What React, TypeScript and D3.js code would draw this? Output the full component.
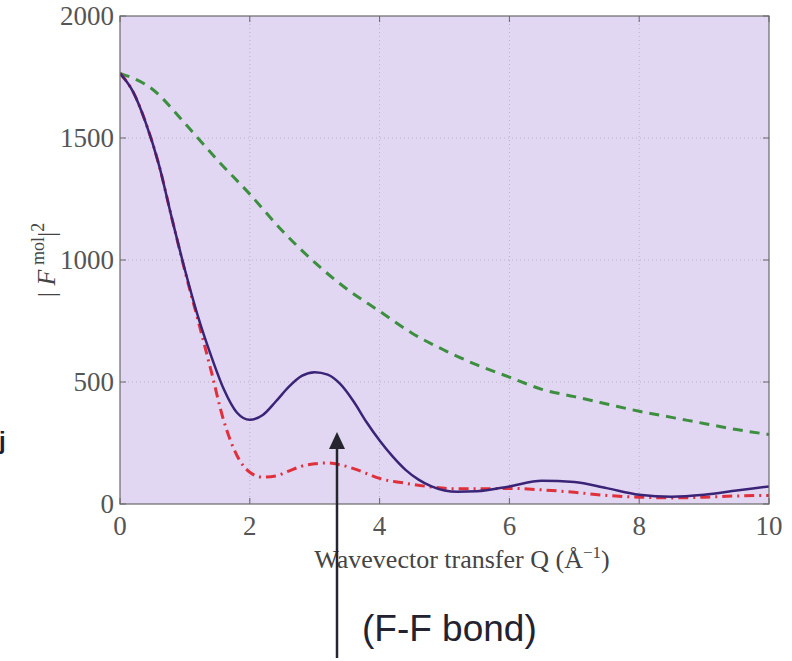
import React from 'react';
import * as d3 from 'd3';

// Q values (Å^-1) and |F^mol|^2
const qFull = [0, 0.2, 0.4, 0.6, 0.8, 1.0, 1.2, 1.4, 1.6, 1.8, 2.0, 2.2, 2.4, 2.6, 2.8, 3.0, 3.2, 3.4, 3.6, 3.8, 4.0, 4.2, 4.4, 4.6, 4.8, 5.0, 5.2, 5.5, 6.0, 6.5, 7.0, 7.5, 8.0, 8.5, 9.0, 9.5, 10];
const molecule = [1765, 1690, 1560, 1390, 1170, 960, 770, 610, 470, 375, 345, 365, 420, 480, 525, 540, 530, 490, 420, 335, 260, 195, 140, 100, 72, 55, 50, 52, 72, 95, 90, 65, 38, 30, 38, 55, 72];

const qRed = [0, 0.2, 0.4, 0.6, 0.8, 1.0, 1.2, 1.4, 1.6, 1.8, 2.0, 2.2, 2.4, 2.6, 2.8, 3.0, 3.2, 3.4, 3.6, 3.8, 4.0, 4.4, 4.8, 5.2, 5.6, 6.0, 6.5, 7.0, 7.5, 8.0, 8.5, 9.0, 9.5, 10];
const interference = [1765, 1690, 1560, 1390, 1170, 955, 755, 550, 340, 200, 130, 110, 115, 135, 155, 165, 168, 160, 145, 125, 105, 85, 70, 62, 62, 64, 58, 48, 35, 28, 25, 28, 33, 35];

const qGreen = [0, 0.5, 1, 1.5, 2, 2.5, 3, 3.5, 4, 4.5, 5, 5.5, 6, 6.5, 7, 7.5, 8, 8.5, 9, 9.5, 10];
const atomic = [1765, 1700, 1560, 1410, 1270, 1120, 990, 880, 790, 700, 630, 570, 520, 470, 440, 410, 380, 355, 330, 305, 285];

const xTicks = [0, 2, 4, 6, 8, 10];
const yTicks = [0, 500, 1000, 1500, 2000];

const W = 792, H = 661;
const L = 120, R = 769, T = 16, B = 504;

export default function App() {
  const x = d3.scaleLinear().domain([0, 10]).range([L, R]);
  const y = d3.scaleLinear().domain([0, 2000]).range([B, T]);
  const line = (xs: number[], ys: number[]) =>
    d3.line<number>().x((_, i) => x(xs[i])).y(d => y(d)).curve(d3.curveMonotoneX)(ys) || '';

  const serif = '"Liberation Serif", "DejaVu Serif", serif';
  const sans = '"Liberation Sans", Arial, sans-serif';

  return (
    <svg width={W} height={H} style={{ position: 'absolute', left: 0, top: 0, background: '#fff' }}>
      <defs>
        <clipPath id="plot">
          <rect x={L} y={T} width={R - L} height={B - T} />
        </clipPath>
      </defs>
      <rect x={L} y={T} width={R - L} height={B - T} fill="#e2d7f2" />

      {/* grid */}
      {xTicks.slice(1, -1).map(t => (
        <line key={'gx' + t} x1={x(t)} x2={x(t)} y1={T} y2={B} stroke="#b8b0c8" strokeWidth={1} strokeDasharray="1,3" />
      ))}
      {yTicks.slice(1, -1).map(t => (
        <line key={'gy' + t} x1={L} x2={R} y1={y(t)} y2={y(t)} stroke="#b8b0c8" strokeWidth={1} strokeDasharray="1,3" />
      ))}

      {/* ticks */}
      {xTicks.map(t => (
        <g key={'tx' + t} stroke="#666">
          <line x1={x(t)} x2={x(t)} y1={B} y2={B - 6} />
          <line x1={x(t)} x2={x(t)} y1={T} y2={T + 6} />
        </g>
      ))}
      {yTicks.map(t => (
        <g key={'ty' + t} stroke="#666">
          <line x1={L} x2={L + 6} y1={y(t)} y2={y(t)} />
          <line x1={R} x2={R - 6} y1={y(t)} y2={y(t)} />
        </g>
      ))}

      <g clipPath="url(#plot)" fill="none">
        <path d={line(qGreen, atomic)} stroke="#3b8f3e" strokeWidth={3} strokeDasharray="10,7" />
        <path d={line(qRed, interference)} stroke="#e0303c" strokeWidth={3} strokeDasharray="10,5,2,5" />
        <path d={line(qFull, molecule)} stroke="#3a2478" strokeWidth={2.5} />
      </g>

      <rect x={L} y={T} width={R - L} height={B - T} fill="none" stroke="#6a6a6a" strokeWidth={1.2} />

      {/* tick labels */}
      {xTicks.map(t => (
        <text key={'lx' + t} x={x(t)} y={B + 31} textAnchor="middle" fontFamily={serif} fontSize={27} fill="#555">{t}</text>
      ))}
      {yTicks.map(t => (
        <text key={'ly' + t} x={L - 6} y={y(t)} dy="0.33em" textAnchor="end" fontFamily={serif} fontSize={27} fill="#555">{t}</text>
      ))}

      {/* axis titles */}
      <text x={462} y={568} textAnchor="middle" fontFamily={serif} fontSize={26} fill="#444">
        Wavevector transfer Q (Å<tspan dy={-10} fontSize={17}>−1</tspan><tspan dy={10}>)</tspan>
      </text>
      <text transform={`translate(55,260) rotate(-90)`} textAnchor="middle" fontFamily={serif} fontSize={26} fill="#444">
        | <tspan fontStyle="italic">F</tspan><tspan dy={-11} fontSize={18}> mol</tspan><tspan dy={11}>|</tspan><tspan dy={-11} fontSize={18}>2</tspan>
      </text>

      {/* annotation */}
      <line x1={337} x2={337} y1={658} y2={446} stroke="#25252f" strokeWidth={2.5} />
      <path d="M329,449 L337,432 L345,449 Z" fill="#25252f" />
      <text x={362} y={641} fontFamily={sans} fontSize={37} fill="#222230">(F-F bond)</text>
      <text x={-1} y={449} fontFamily={sans} fontSize={24} fontWeight="bold" fill="#1c1c3a">j</text>
    </svg>
  );
}
